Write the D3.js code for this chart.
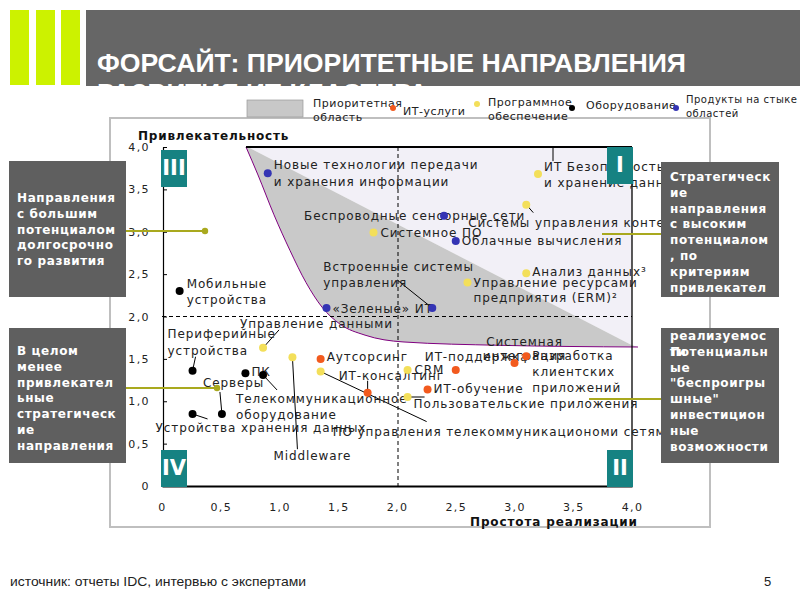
<!DOCTYPE html>
<html>
<head>
<meta charset="utf-8">
<script src="https://cdn.jsdelivr.net/npm/d3@7"></script>
<style>
  body { margin: 0; background: #fff; }
  svg { display: block; }
</style>
</head>
<body>
<div id="chart"></div>
<script>
// ---------- data ----------
const xTicks = [0, 0.5, 1, 1.5, 2, 2.5, 3, 3.5, 4];
const yTicks = [0, 0.5, 1, 1.5, 2, 2.5, 3, 3.5, 4];

const legendItems = ["Приоритетная область", "ИТ-услуги", "Программное обеспечение", "Оборудование", "Продукты на стыке областей"];

// x = простота реализации, y = привлекательность
const services = [
  { name: "Аутсорсинг", x: 1.35, y: 1.50 },
  { name: "ИТ-консалтинг", x: 1.75, y: 1.10 },
  { name: "ИТ-поддержка", x: 2.50, y: 1.37 },
  { name: "ИТ-обучение", x: 2.26, y: 1.14 },
  { name: "Системная интеграция", x: 3.00, y: 1.45 },
  { name: "Разработка клиентских приложений", x: 3.10, y: 1.53 }
];
const software = [
  { name: "ИТ Безопасность и хранение данных", x: 3.20, y: 3.68 },
  { name: "Системы управления контентом", x: 3.10, y: 3.32 },
  { name: "Системное ПО", x: 1.80, y: 2.99 },
  { name: "Анализ данных³", x: 3.10, y: 2.51 },
  { name: "Управление ресурсами предприятия (ERM)²", x: 2.60, y: 2.40 },
  { name: "Управление данными", x: 0.86, y: 1.63 },
  { name: "Middleware", x: 1.11, y: 1.52 },
  { name: "ПО управления телекоммуникациономи сетям", x: 1.35, y: 1.35 },
  { name: "CRM", x: 2.09, y: 1.37 },
  { name: "Пользовательские приложения", x: 2.09, y: 1.05 }
];
const hardware = [
  { name: "Мобильные устройства", x: 0.15, y: 2.30 },
  { name: "Периферийные устройства", x: 0.26, y: 1.36 },
  { name: "ПК", x: 0.71, y: 1.33 },
  { name: "Телекоммуникационное оборудование", x: 0.86, y: 1.31 },
  { name: "Серверы", x: 0.51, y: 0.85 },
  { name: "Устройства хранения данных", x: 0.26, y: 0.85 }
];
const crossover = [
  { name: "Новые технологии передачи и хранения информации", x: 0.90, y: 3.69 },
  { name: "Беспроводные сенсорные сети", x: 2.40, y: 3.19 },
  { name: "Облачные вычисления", x: 2.50, y: 2.89 },
  { name: "«Зеленые» ИТ", x: 1.40, y: 2.10 },
  { name: "Встроенные системы управления", x: 2.30, y: 2.10 }
];

// boundary of the priority area
const priorityCurve = [[0.715, 4.0], [0.817, 3.67], [0.953, 3.20], [1.089, 2.78], [1.226, 2.40],
  [1.362, 2.11], [1.515, 1.91], [1.728, 1.78], [2.051, 1.70], [2.877, 1.66], [4.051, 1.64]];
const priorityEdge = [[4.0, 1.66], [0.73, 4.0]];

const leftNotes = [
  ["Направления", "с большим", "потенциалом", "долгосрочно", "го развития"],
  ["В целом", "менее", "привлекател", "ьные", "стратегическ", "ие", "направления"]
];
const rightNotes = [
  ["Стратегическ", "ие", "направления", "с высоким", "потенциалом", ", по", "критериям", "привлекател"],
  ["реализуемос", "ти"],
  ["", "Потенциальн", "ые", "\"беспроигры", "шные\"", "инвестицион", "ные", "возможности"]
];

// ---------- label layout (offsets from the dot, px) ----------
const labelLayout = {
  "Мобильные устройства": { lines: ["Мобильные", "устройства"], dx: 7, dy: -7, lh: 16 },
  "Периферийные устройства": { lines: ["Периферийные", "устройства"], dx: -25, dy: -37, lh: 17, leader: [[0, 0], [3, -14]] },
  "ПК": { lines: ["ПК"], dx: 6, dy: -1 },
  "Телекоммуникационное оборудование": { lines: ["Телекоммуникационное", "оборудование"], dx: -27, dy: 24, lh: 16, leader: [[0, 0], [14, 15]] },
  "Серверы": { lines: ["Серверы"], dx: -19, dy: -31, leader: [[0, 0], [-2, -22]] },
  "Устройства хранения данных": { lines: ["Устройства хранения данных"], dx: -37, dy: 14, leader: [[0, 0], [15, 5]] },
  "ИТ Безопасность и хранение данных": { lines: ["ИТ Безопасность", "и хранение данных"], dx: 6, dy: -7, lh: 16, leader: [[15, -27], [15, -13]] },
  "Системы управления контентом": { lines: ["Системы управления контентом"], dx: -58, dy: 18, leader: [[0, 0], [7, 8]] },
  "Системное ПО": { lines: ["Системное ПО"], dx: 7, dy: 0 },
  "Анализ данных³": { lines: ["Анализ данных³"], dx: 6, dy: -1 },
  "Управление ресурсами предприятия (ERM)²": { lines: ["Управление ресурсами", "предприятия (ERM)²"], dx: 6, dy: 0, lh: 15 },
  "Управление данными": { lines: ["Управление данными"], dx: -23, dy: -24, leader: [[0, 0], [16, -18]] },
  "Middleware": { lines: ["Middleware"], dx: -19, dy: 99, leader: [[0, 0], [5, 92]] },
  "ПО управления телекоммуникациономи сетям": { lines: ["ПО управления телекоммуникациономи сетям"], dx: 12, dy: 60, leader: [[0, 0], [106, 50]] },
  "CRM": { lines: ["CRM"], dx: 7, dy: 0 },
  "Пользовательские приложения": { lines: ["Пользовательские приложения"], dx: 6, dy: 7, leader: [[0, 0], [17, 0]] },
  "Аутсорсинг": { lines: ["Аутсорсинг"], dx: 6, dy: -2 },
  "ИТ-консалтинг": { lines: ["ИТ-консалтинг"], dx: -29, dy: -17, leader: [[0, 0], [0, -12]] },
  "ИТ-поддержка": { lines: ["ИТ-поддержка"], dx: -31, dy: -13 },
  "ИТ-обучение": { lines: ["ИТ-обучение"], dx: 6, dy: 0 },
  "Системная интеграция": { lines: ["Системная", "интеграция"], dx: 10, dy: -21, lh: 14, anchor: "middle" },
  "Разработка клиентских приложений": { lines: ["Разработка", "клиентских", "приложений"], dx: 6, dy: 0, lh: 16 },
  "Новые технологии передачи и хранения информации": { lines: ["Новые технологии передачи", "и хранения информации"], dx: 6, dy: -8, lh: 17 },
  "Беспроводные сенсорные сети": { lines: ["Беспроводные сенсорные сети"], dx: -140, dy: 0 },
  "Облачные вычисления": { lines: ["Облачные вычисления"], dx: 6, dy: 0 },
  "«Зеленые» ИТ": { lines: ["«Зеленые» ИТ"], dx: 6, dy: 1 },
  "Встроенные системы управления": { lines: ["Встроенные системы", "управления"], dx: -109, dy: -41, lh: 16, leader: [[0, 0], [-35, -28]] }
};

const colours = { services: "#f25a1e", software: "#f3df5a", hardware: "#000000", crossover: "#3434b4" };
const labelFont = "'DejaVu Sans', sans-serif";

// ---------- svg ----------
const width = 800, height = 600;
const svg = d3.select("#chart").append("svg")
  .attr("width", width)
  .attr("height", height);

svg.append("rect").attr("width", width).attr("height", height).attr("fill", "#fff");

const x = d3.scaleLinear().domain([0, 4]).range([162, 632]);
const y = d3.scaleLinear().domain([0, 4]).range([486, 147]);

// ---------- title ----------
svg.append("clipPath").attr("id", "titleClip")
  .append("rect").attr("x", 86).attr("y", 10).attr("width", 714).attr("height", 77);

svg.append("rect").attr("x", 86).attr("y", 10).attr("width", 714).attr("height", 76).attr("fill", "#666666");
[10, 36, 61].forEach(bx => {
  svg.append("rect").attr("x", bx).attr("y", 10).attr("width", 19).attr("height", 75).attr("fill", "#ccf200");
});

const titleG = svg.append("g").attr("clip-path", "url(#titleClip)")
  .attr("font-family", "'Liberation Sans', Arial, sans-serif")
  .attr("font-weight", "bold").attr("font-size", 25).attr("fill", "#fff");
titleG.append("text").attr("x", 97).attr("y", 72)
  .attr("textLength", 589).attr("lengthAdjust", "spacingAndGlyphs")
  .text("ФОРСАЙТ: ПРИОРИТЕТНЫЕ НАПРАВЛЕНИЯ");
titleG.append("text").attr("x", 97).attr("y", 102)
  .attr("textLength", 331).attr("lengthAdjust", "spacingAndGlyphs")
  .text("РАЗВИТИЯ ИТ-КЛАСТЕРА");

// ---------- frame ----------
svg.append("rect").attr("x", 110).attr("y", 118).attr("width", 600).attr("height", 409)
  .attr("fill", "#fff").attr("stroke", "#bfbfbf").attr("stroke-width", 2);

// ---------- legend ----------
const legend = svg.append("g").attr("font-family", labelFont).attr("font-size", 11)
  .attr("fill", "#222").attr("letter-spacing", 0.5);
legend.append("rect").attr("x", 247).attr("y", 100).attr("width", 56).attr("height", 17)
  .attr("fill", "#c8c8c8").attr("stroke", "#999").attr("stroke-width", 0.7);
const legendText = [
  { lines: ["Приоритетная", "область"], x: 313, y: 104 },
  { lines: ["ИТ-услуги"], x: 403, y: 112 },
  { lines: ["Программное", "обеспечение"], x: 488, y: 103 },
  { lines: ["Оборудование"], x: 586, y: 106 },
  { lines: ["Продукты на стыке", "областей"], x: 686, y: 100 }
];
legendText.forEach((d, i) => {
  const t = legend.append("text").attr("x", d.x).attr("y", d.y).attr("dominant-baseline", "middle")
    .attr("font-size", i === 4 ? 10 : 11);
  d.lines.forEach((l, j) => t.append("tspan").attr("x", d.x).attr("dy", j ? 14 : 0).text(l));
});
const legendDots = [
  { x: 393, y: 108, c: colours.services },
  { x: 477, y: 104, c: colours.software },
  { x: 572, y: 108, c: colours.hardware },
  { x: 676, y: 108, c: colours.crossover }
];
legend.selectAll("circle").data(legendDots).join("circle")
  .attr("cx", d => d.x).attr("cy", d => d.y).attr("r", 3).attr("fill", d => d.c);

// ---------- priority area ----------
const line = d3.line().x(d => x(d[0])).y(d => y(d[1]));
const curveLine = d3.line().x(d => x(d[0])).y(d => y(d[1])).curve(d3.curveMonotoneX);

svg.append("path")
  .attr("d", line([priorityEdge[1], [4, 4], priorityEdge[0]]) + "Z")
  .attr("fill", "#f2f0f7");
svg.append("path")
  .attr("d", curveLine(priorityCurve) + "L" + priorityEdge.map(p => [x(p[0]), y(p[1])].join(",")).join("L") + "Z")
  .attr("fill", "#c9c9c9");
svg.append("path")
  .attr("d", curveLine(priorityCurve))
  .attr("fill", "none").attr("stroke", "#800080").attr("stroke-width", 1);

// top and right borders of plot
svg.append("line").attr("x1", x(0.715)).attr("x2", x(4)).attr("y1", y(4)).attr("y2", y(4))
  .attr("stroke", "#000").attr("stroke-width", 2);
svg.append("line").attr("x1", x(4)).attr("x2", x(4)).attr("y1", y(4)).attr("y2", y(0))
  .attr("stroke", "#000").attr("stroke-width", 1.3);

// dashed quadrant lines
svg.append("line").attr("x1", x(2) + 1).attr("x2", x(2) + 1).attr("y1", y(4)).attr("y2", y(0))
  .attr("stroke", "#000").attr("stroke-dasharray", "4,3");
svg.append("line").attr("x1", x(0)).attr("x2", x(4)).attr("y1", y(2)).attr("y2", y(2))
  .attr("stroke", "#000").attr("stroke-dasharray", "4,3");

// ---------- axes ----------
const fmt = d => d === 0 ? "0" : d3.format(".1f")(d).replace(".", ",");

const yAxis = svg.append("g").attr("transform", `translate(${x(0) + 1},0)`)
  .call(d3.axisLeft(y).tickValues(yTicks).tickFormat(fmt).tickSizeInner(-4).tickSizeOuter(0).tickPadding(13));
const xAxis = svg.append("g").attr("transform", `translate(0,${y(0)})`)
  .call(d3.axisBottom(x).tickValues(xTicks).tickFormat(fmt).tickSize(0).tickPadding(17));
[yAxis, xAxis].forEach(a => {
  a.attr("font-family", labelFont).attr("font-size", 11);
  a.selectAll("text").attr("fill", "#222").attr("letter-spacing", 1.4);
  a.selectAll("line").attr("stroke", "#000");
});
yAxis.select(".domain").attr("stroke", "#000").attr("stroke-width", 1.2);
xAxis.select(".domain").attr("stroke", "#000").attr("stroke-width", 2.2);

svg.append("text").attr("x", 138).attr("y", 140)
  .attr("font-family", labelFont).attr("font-weight", "bold").attr("font-size", 12)
  .attr("letter-spacing", 0.8).attr("fill", "#111").text("Привлекательность");
svg.append("text").attr("x", 470).attr("y", 526)
  .attr("font-family", labelFont).attr("font-weight", "bold").attr("font-size", 12)
  .attr("textLength", 167).attr("lengthAdjust", "spacing")
  .attr("fill", "#111").text("Простота реализации");

// ---------- points and labels ----------
const groups = [
  { key: "services", data: services },
  { key: "software", data: software },
  { key: "hardware", data: hardware },
  { key: "crossover", data: crossover }
];
const allPoints = groups.flatMap(g => g.data.map(d => ({ ...d, colour: colours[g.key] })));

const leaders = svg.append("g").attr("stroke", "#000").attr("stroke-width", 1).attr("fill", "none");
const labels = svg.append("g").attr("font-family", labelFont).attr("font-size", 12)
  .attr("fill", "#222").attr("letter-spacing", 0.9);

allPoints.forEach(d => {
  const L = labelLayout[d.name];
  if (!L) return;
  const px = x(d.x), py = y(d.y);
  if (L.leader) {
    leaders.append("path").attr("d", d3.line()(L.leader.map(p => [px + p[0], py + p[1]])));
  }
  const t = labels.append("text")
    .attr("x", px + L.dx).attr("y", py + L.dy)
    .attr("dominant-baseline", "middle")
    .attr("text-anchor", L.anchor || "start");
  L.lines.forEach((l, j) => t.append("tspan").attr("x", px + L.dx).attr("dy", j ? (L.lh || 16) : 0).text(l));
});

svg.append("g").selectAll("circle").data(allPoints).join("circle")
  .attr("cx", d => x(d.x)).attr("cy", d => y(d.y)).attr("r", 4)
  .attr("fill", d => d.colour);

// ---------- quadrant badges ----------
const badges = [
  { t: "III", x: 161, y: 150 },
  { t: "I", x: 607, y: 147 },
  { t: "IV", x: 161, y: 450 },
  { t: "II", x: 607, y: 450 }
];
const badgeG = svg.append("g");
badges.forEach(b => {
  badgeG.append("rect").attr("x", b.x).attr("y", b.y).attr("width", 26).attr("height", 37).attr("fill", "#168282");
  badgeG.append("text").attr("x", b.x + 13).attr("y", b.y + 19).attr("text-anchor", "middle")
    .attr("dominant-baseline", "middle").attr("font-family", "'DejaVu Sans', sans-serif")
    .attr("font-weight", "bold").attr("font-size", 21).attr("fill", "#fff").text(b.t);
});

// ---------- side notes ----------
const olive = "#a9a91e";
const connectors = [
  { x1: 126, x2: 205, y: 231, dot: true },
  { x1: 126, x2: 217, y: 388, dot: true },
  { x1: 602, x2: 661, y: 234, dot: false },
  { x1: 589, x2: 661, y: 399, dot: false }
];
connectors.forEach(c => {
  svg.append("line").attr("x1", c.x1).attr("x2", c.x2).attr("y1", c.y).attr("y2", c.y)
    .attr("stroke", olive).attr("stroke-width", 2);
  if (c.dot) svg.append("circle").attr("cx", c.x2).attr("cy", c.y).attr("r", 3.2).attr("fill", olive);
});

const boxes = [
  { x: 9, y: 161, w: 117, h: 136, lines: leftNotes[0], ty: 198, tx: 17 },
  { x: 9, y: 328, w: 117, h: 135, lines: leftNotes[1], ty: 351, tx: 17 },
  { x: 661, y: 162, w: 118, h: 135, lines: rightNotes[0], ty: 177, tx: 670 },
  { x: 661, y: 328, w: 118, h: 135, lines: rightNotes[2], ty: 336, tx: 670, extra: rightNotes[1] }
];
boxes.forEach(b => {
  svg.append("rect").attr("x", b.x).attr("y", b.y).attr("width", b.w).attr("height", b.h).attr("fill", "#5f5f5f");
  const draw = lines => {
    const t = svg.append("text").attr("x", b.tx).attr("y", b.ty).attr("dominant-baseline", "middle")
      .attr("font-family", labelFont).attr("font-weight", "bold").attr("font-size", 12)
      .attr("letter-spacing", 0.6).attr("fill", "#fff");
    lines.forEach((l, j) => t.append("tspan").attr("x", b.tx).attr("dy", j ? 15.8 : 0).text(l));
  };
  draw(b.lines);
  if (b.extra) draw(b.extra);
});

// ---------- footer ----------
svg.append("text").attr("x", 10).attr("y", 586)
  .attr("font-family", "'Liberation Sans', Arial, sans-serif").attr("font-size", 13)
  .attr("fill", "#222").attr("textLength", 296).attr("lengthAdjust", "spacingAndGlyphs")
  .text("источник: отчеты IDC, интервью с экспертами");
svg.append("text").attr("x", 764).attr("y", 586)
  .attr("font-family", "'Liberation Sans', Arial, sans-serif").attr("font-size", 13)
  .attr("fill", "#222").text("5");
</script>
</body>
</html>
